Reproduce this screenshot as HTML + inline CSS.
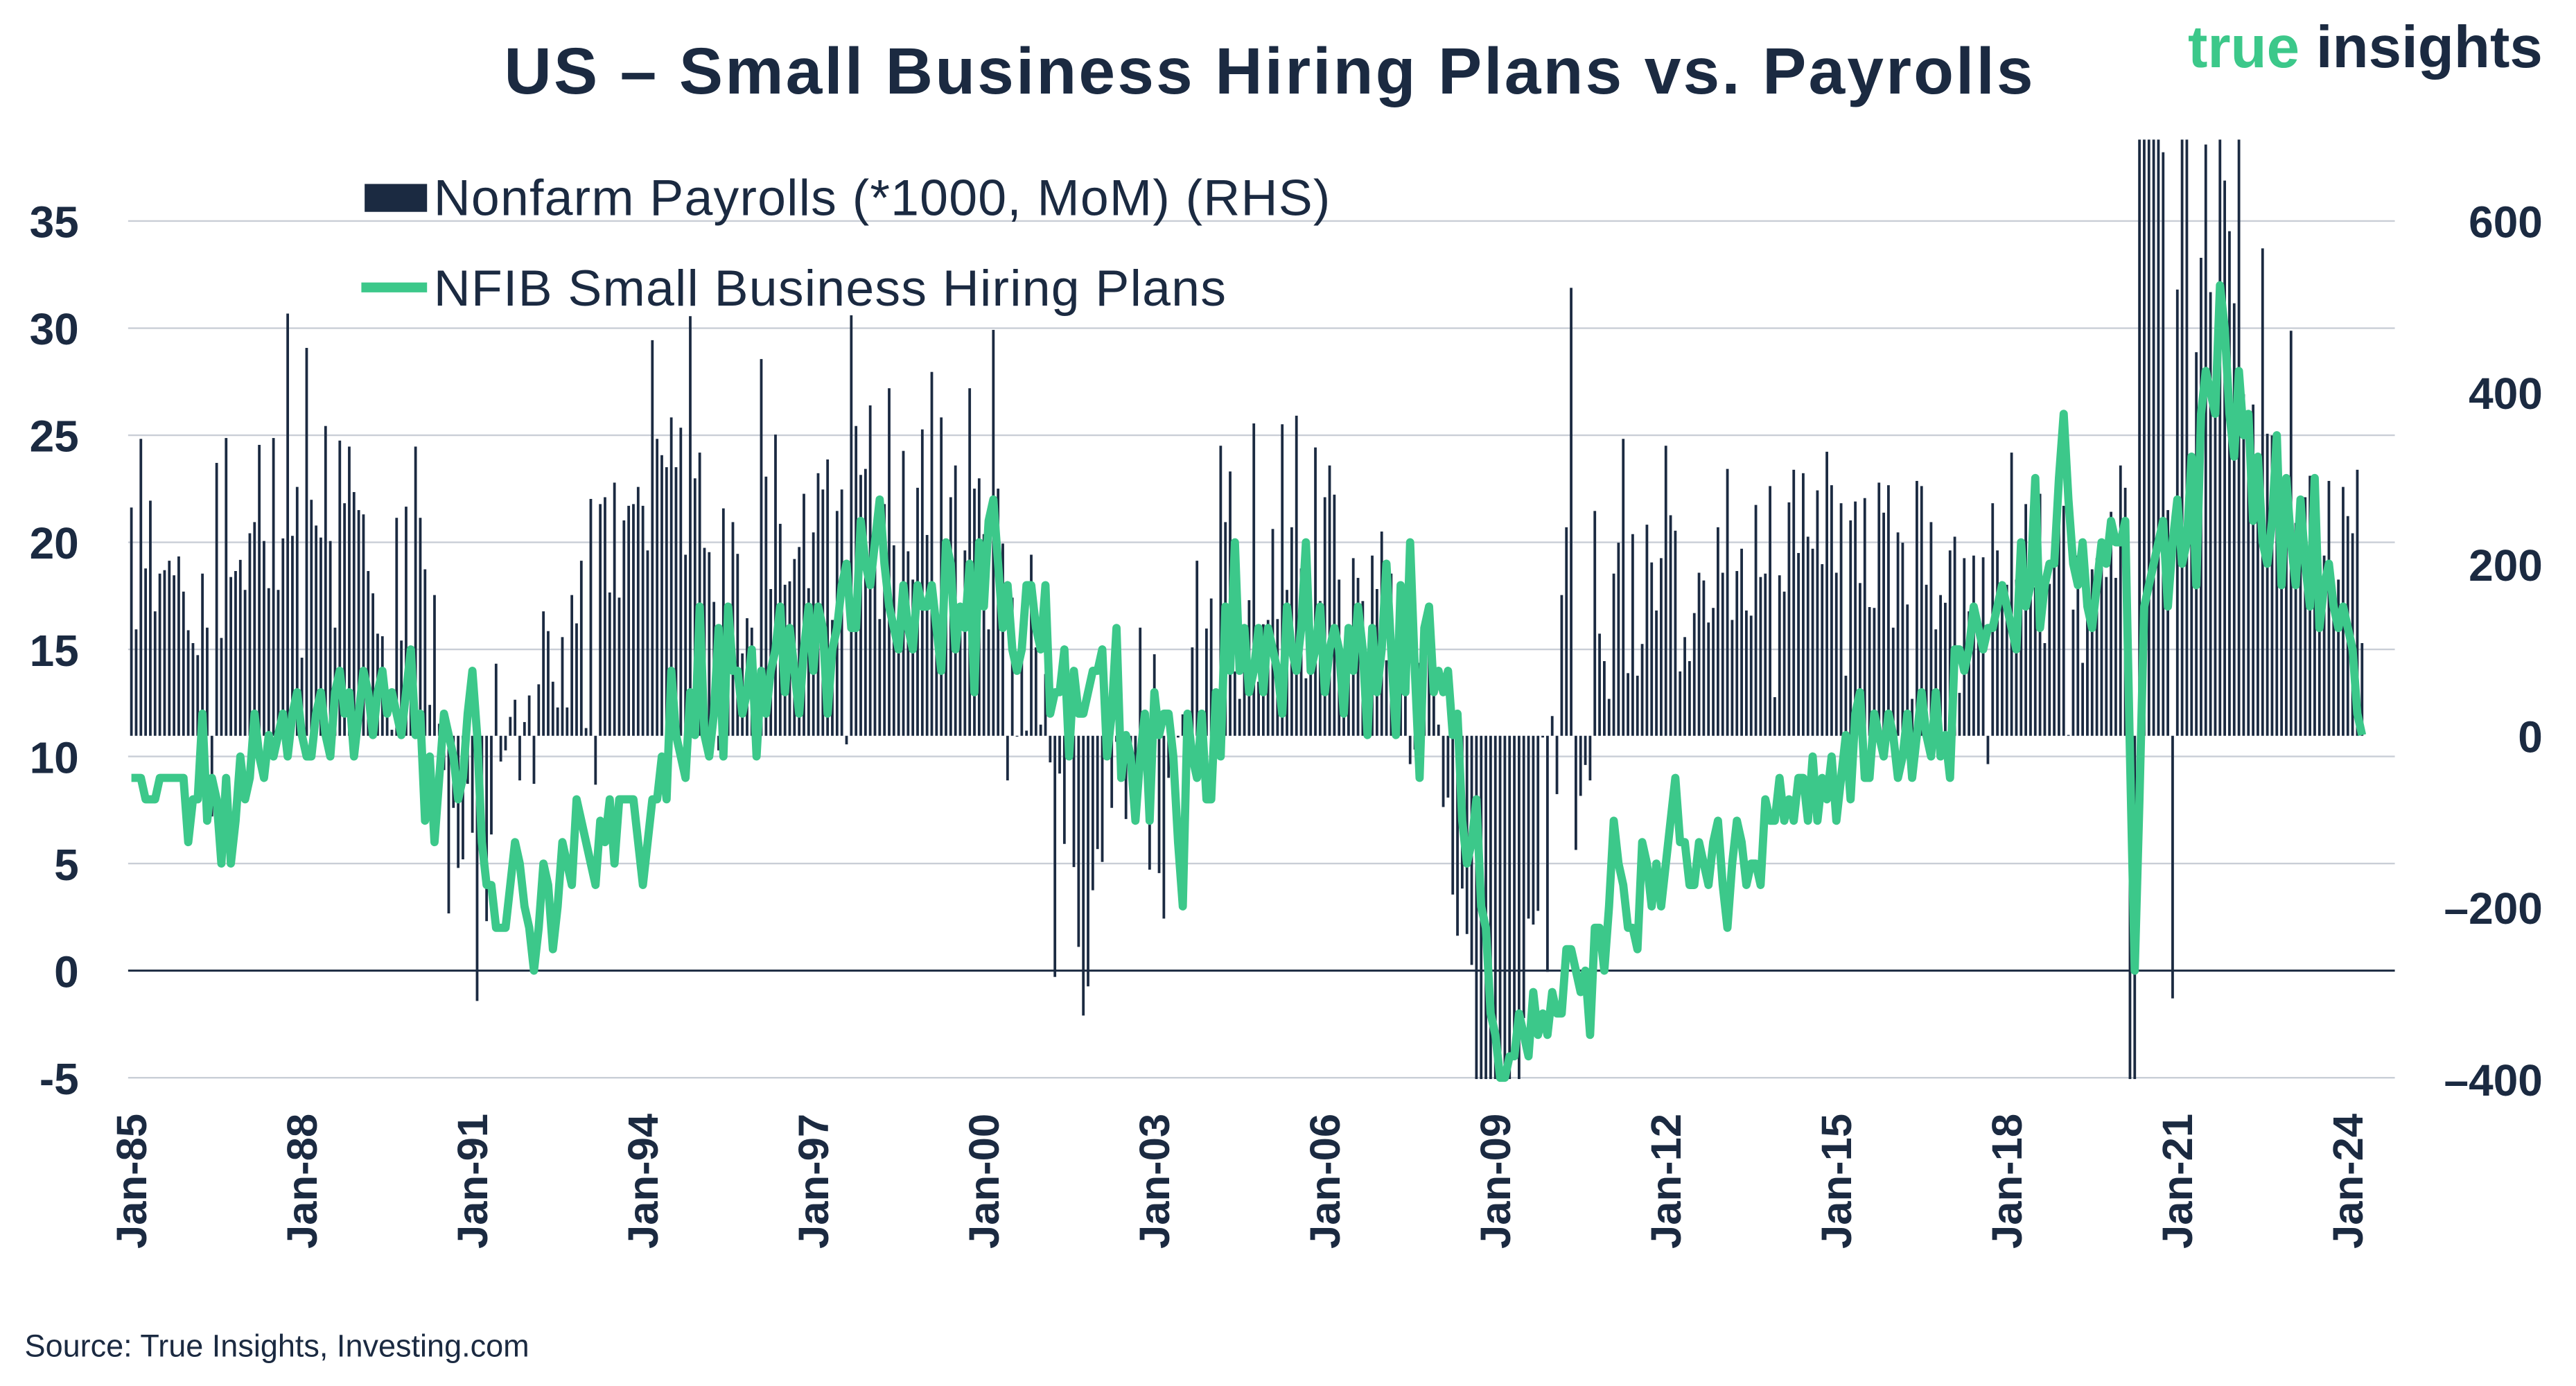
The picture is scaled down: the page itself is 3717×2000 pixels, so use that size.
<!DOCTYPE html>
<html><head><meta charset="utf-8">
<style>
html,body{margin:0;padding:0;background:#fff;}
svg{display:block;}
text{font-family:"Liberation Sans",sans-serif;}
</style></head>
<body>
<svg id="chart" width="3717" height="2000" viewBox="0 0 1568.3 843.9" preserveAspectRatio="none" xmlns="http://www.w3.org/2000/svg">
<rect x="0" y="0" width="1568.3" height="843.9" fill="#fff"/>
<text x="773" y="57" text-anchor="middle" font-size="40" font-weight="bold" letter-spacing="1.3" fill="#1b2a41">US – Small Business Hiring Plans vs. Payrolls</text>
<g>
<text x="1548" y="41" text-anchor="end" font-size="36" font-weight="bold"><tspan fill="#3cc88a">true </tspan><tspan fill="#1b2a41">insights</tspan></text>
</g>
<g id="grid"></g>
<g id="bars"></g>
<path id="nfib" fill="none" stroke="#3cc88a" stroke-width="5" stroke-linejoin="round"/>
<g id="axes"></g>
<g>
<g>
<rect x="222" y="112" width="38" height="17" fill="#1b2a41"/>
<text x="264" y="131" font-size="31" letter-spacing="0.5" fill="#1b2a41">Nonfarm Payrolls (*1000, MoM) (RHS)</text>
</g>
<g>
<line x1="220" y1="175" x2="260" y2="175" stroke="#3cc88a" stroke-width="6"/>
<text x="264" y="186" font-size="31" letter-spacing="0.5" fill="#1b2a41">NFIB Small Business Hiring Plans</text>
</g>
</g>
<text x="15" y="826" font-size="19" fill="#1b2a41">Source: True Insights, Investing.com</text>
</svg>
<script>
const payrolls = [
266,124,346,195,274,145,189,193,204,187,209,168,
123,108,94,189,126,-94,318,114,347,185,192,205,
170,236,249,339,227,172,347,170,230,492,233,290,
91,452,275,245,231,361,227,126,344,271,337,284,
263,258,192,166,119,116,40,7,254,111,267,65,
337,254,194,36,164,14,-40,-207,-84,-154,-144,-56,
-113,-309,-140,-216,-115,84,-30,-17,22,42,-52,16,
47,-56,60,145,122,63,33,115,33,164,131,204,
9,276,-57,270,278,167,295,161,251,268,270,290,
268,216,461,346,327,313,371,313,359,211,489,300,
330,219,214,156,-17,265,100,249,212,96,137,126,
-20,439,302,171,351,247,176,180,206,220,282,172,
237,306,287,322,135,262,287,-10,490,361,304,311,
385,215,136,270,405,222,96,332,215,182,289,357,
234,424,100,371,222,278,315,146,216,405,288,300,
235,124,473,288,224,-52,161,0,133,6,211,103,
13,72,-31,-281,-44,-126,-6,-153,-246,-326,-292,-180,
-132,-147,-24,-84,-7,46,-97,-14,-54,126,8,-156,
95,-160,-213,-49,-6,-2,25,-42,103,204,15,125,
160,43,338,249,308,75,43,117,158,364,63,130,
135,241,136,363,170,243,373,195,67,84,336,157,
278,315,281,182,23,77,207,184,157,2,210,171,
238,88,189,79,143,78,-33,-16,85,82,118,97,
13,-83,-72,-185,-233,-178,-231,-267,-450,-474,-766,-694,
-793,-702,-823,-687,-349,-471,-329,-213,-220,-204,-2,-275,
23,-68,164,243,522,-133,-70,-34,-52,262,119,87,
43,189,225,346,73,235,70,107,246,202,146,207,
338,257,239,75,115,87,143,190,181,132,149,243,
190,311,135,192,218,146,140,269,185,189,291,45,
187,168,272,310,213,306,232,218,286,200,331,292,
190,271,70,251,273,178,277,150,149,295,260,292,
126,237,225,153,43,297,291,176,249,124,164,155,
216,232,50,207,145,210,138,208,-33,271,216,175,
176,330,182,196,270,235,173,282,108,177,196,312,
268,1,147,210,85,182,194,207,208,185,261,184,
315,289,-1373,-20477,2833,4846,1726,1583,716,680,263,-306,
520,710,704,263,447,557,689,517,424,702,647,588,
504,714,398,368,386,293,568,352,350,324,263,239,
472,248,217,278,303,240,184,210,297,165,182,290,
256,236,310,108];
const hiringPlans = [
9,9,9,8,8,8,9,9,9,9,9,9,
6,8,8,12,7,9,8,5,9,5,7,10,
8,9,12,10,9,11,10,11,12,10,12,13,
11,10,10,12,13,11,10,13,14,12,13,10,
12,14,13,11,13,14,12,13,12,11,13,15,
11,12,7,10,6,9,12,11,10,8,9,12,
14,11,6,4,4,2,2,2,4,6,5,3,
2,0,2,5,4,1,3,6,5,4,8,7,
6,5,4,7,6,8,5,8,8,8,8,6,
4,6,8,8,10,8,14,11,10,9,13,11,
17,11,10,12,16,10,17,14,14,12,13,15,
10,14,12,14,15,17,13,16,14,12,15,17,
14,17,16,12,15,16,18,19,16,16,21,19,
18,20,22,19,17,16,15,18,16,15,18,17,
17,18,16,14,20,19,15,17,16,19,13,20,
17,21,22,19,16,18,15,14,15,18,18,16,
15,18,12,13,13,15,10,14,12,12,13,14,
14,15,10,12,16,9,11,10,7,10,12,7,
13,11,12,12,10,6,3,12,10,9,12,8,
8,13,10,17,14,20,14,16,13,14,16,13,
16,15,14,12,17,15,14,16,20,14,15,17,
13,15,16,15,12,16,14,17,15,11,16,13,
15,19,15,11,18,13,20,14,9,16,17,13,
14,13,14,11,12,7,5,6,8,3,2,-2,
-3,-5,-5,-4,-4,-2,-3,-4,-1,-3,-2,-3,
-1,-2,-2,1,1,0,-1,0,-3,2,2,0,
3,7,5,4,2,2,1,6,5,3,5,3,
5,7,9,6,6,4,4,6,5,4,6,7,
4,2,5,7,6,4,5,5,4,8,7,7,
9,7,8,7,9,9,7,10,7,9,8,10,
7,9,11,8,12,13,9,9,12,11,10,12,
11,9,10,12,9,11,13,11,10,13,10,11,
9,15,15,14,15,17,16,15,16,16,17,18,
17,16,15,20,17,18,23,16,18,19,19,23,
26,22,19,18,20,17,16,18,20,19,21,20,
20,21,10,0,8,17,18,19,20,21,17,20,
22,19,20,24,18,26,28,27,26,32,30,26,
24,28,25,26,21,24,20,19,21,25,18,23,
20,18,22,19,17,23,16,18,19,17,16,17,
16,15,12,11];
const leftTicks = [-5,0,5,10,15,20,25,30,35];
const rightTicks = [-400,-200,0,200,400,600];
const xTickYears = [1985,1988,1991,1994,1997,2000,2003,2006,2009,2012,2015,2018,2021,2024];
const xTickLabels = ["Jan-85","Jan-88","Jan-91","Jan-94","Jan-97","Jan-00","Jan-03","Jan-06","Jan-09","Jan-12","Jan-15","Jan-18","Jan-21","Jan-24"];

const NS="http://www.w3.org/2000/svg";
const plotTop=85, plotBot=657, plotL=78, plotR=1458;
const xOf = m => 80 + m*34.6/12;
const yL = v => 591 - v*13.04;
const yR = v => 448 - v*0.5225;
const clampY = y => Math.max(plotTop, Math.min(plotBot, y));
function mk(tag, attrs, parent){const e=document.createElementNS(NS,tag);for(const k in attrs)e.setAttribute(k,attrs[k]);parent.appendChild(e);return e;}

const grid=document.getElementById('grid');
leftTicks.forEach(v=>{
  const l=mk('line',{x1:plotL,x2:plotR,y1:yL(v),y2:yL(v),stroke:v===0?'#1b2a41':'#c9ced6','stroke-width':v===0?1.3:1},grid);
  
  
});
const bars=document.getElementById('bars');
payrolls.forEach((v,i)=>{
  const y0=yR(0), y1=clampY(yR(v));
  const r=mk('rect',{x:xOf(i)-0.8,width:1.6,y:Math.min(y0,y1),height:Math.max(0.5,Math.abs(y1-y0)),fill:'#1b2a41'},bars);
  
  
});
let d='';
hiringPlans.forEach((v,i)=>{d+=(i?'L':'M')+xOf(i).toFixed(2)+','+clampY(yL(v)).toFixed(2);});
document.getElementById('nfib').setAttribute('d',d);

const axes=document.getElementById('axes');
leftTicks.forEach(v=>{
  const t=mk('text',{x:48,y:yL(v)+10,'text-anchor':'end','font-size':27,'font-weight':'bold',fill:'#1b2a41'},axes);
  t.textContent=String(v);
  
  
});
rightTicks.forEach(v=>{
  const t=mk('text',{x:1548,y:yR(v)+10,'text-anchor':'end','font-size':27,'font-weight':'bold',fill:'#1b2a41'},axes);
  t.textContent=String(v).replace('-','–');
  
  
});
xTickYears.forEach((yr,k)=>{
  const x=xOf((yr-1985)*12)+9;
  const t=mk('text',{x:x,y:678,'text-anchor':'end','font-size':26,'font-weight':'bold',fill:'#1b2a41',transform:`rotate(-90 ${x} 678)`},axes);
  t.textContent=xTickLabels[k];
  
  
});
</script>
</body></html>
